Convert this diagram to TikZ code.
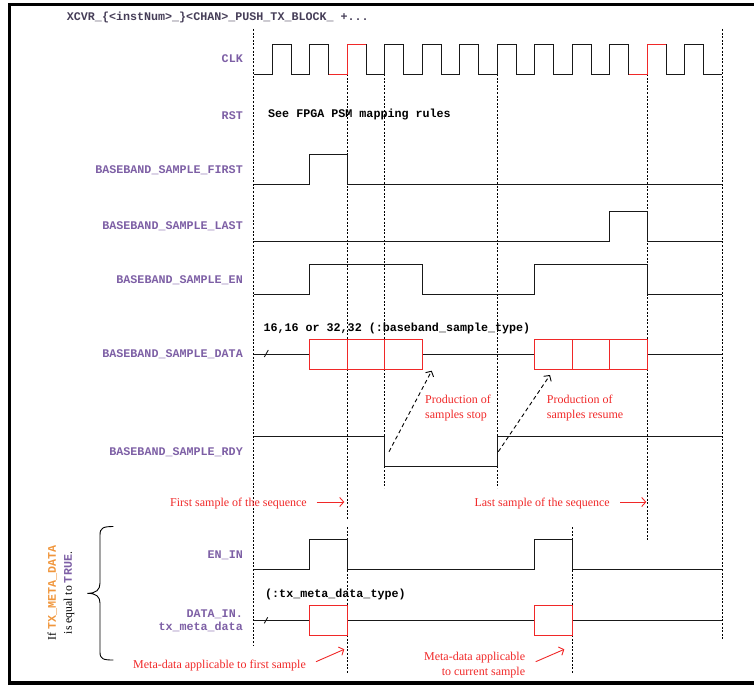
\documentclass[tikz,border=0pt]{standalone}
\usepackage{fontspec}
\setmainfont{Liberation Serif}
\newfontfamily\monof{Liberation Mono}
\usetikzlibrary{arrows.meta}
\definecolor{lbl}{RGB}{125,95,165}
\definecolor{hdr}{RGB}{70,62,88}
\definecolor{rd}{RGB}{240,40,40}
\definecolor{org}{RGB}{240,150,60}
\definecolor{wave}{RGB}{25,25,25}
\begin{document}
\begin{tikzpicture}[x=1pt,y=-1pt,
  sig/.style={font=\monof\bfseries\fontsize{11.7}{14}\selectfont, text=lbl, anchor=base east, inner sep=0},
  mono/.style={font=\monof\bfseries\fontsize{11.7}{14}\selectfont, text=black, anchor=base west, inner sep=0},
  note/.style={font=\fontsize{12}{14}\selectfont, text=rd, inner sep=0},
  wv/.style={line width=0.9pt, draw=wave, line join=miter},
  redwv/.style={line width=0.9pt, draw=rd},
  gridln/.style={dash pattern=on 2pt off 1.6pt, line width=0.7pt, draw=black},
  dbox/.style={draw=rd, line width=0.9pt, fill=white},
  rarrow/.style={draw=rd, line width=0.9pt, -{Straight Barb[length=4pt,width=9pt]}},
  darrow/.style={draw=black, line width=0.9pt, dash pattern=on 4pt off 3pt, -{Straight Barb[length=4pt,width=9pt]}}]
\useasboundingbox (0,0) rectangle (754,685);
% frame
\draw[line width=3pt] (9.5,685) -- (9.5,5) -- (754,5);
\draw[line width=4pt] (8,683) -- (754,683);

% header
\node[mono, text=hdr] (hdr) at (66.7,21) {XCVR\_\{<instNum>\_\}<CHAN>\_PUSH\_TX\_BLOCK\_ +...};

% grid lines
\draw[gridln] (253.5,29) -- (253.5,645);
\draw[gridln] (722.25,29) -- (722.25,639);
\draw[gridln] (347.25,74) -- (347.25,520);
\draw[gridln] (347.25,527) -- (347.25,673);
\draw[gridln] (384.75,74) -- (384.75,488);
\draw[gridln] (497.25,74) -- (497.25,488);
\draw[gridln] (647.25,74) -- (647.25,540);
\draw[gridln] (572.25,527) -- (572.25,673);

% labels
\node[sig] (clk) at (243,62.3) {CLK};
\node[sig] (rst) at (243,119) {RST};
\node[sig] (first) at (243,173) {BASEBAND\_SAMPLE\_FIRST};
\node[sig] (last) at (243,229) {BASEBAND\_SAMPLE\_LAST};
\node[sig] (en) at (243,283.3) {BASEBAND\_SAMPLE\_EN};
\node[sig] (data) at (243,357) {BASEBAND\_SAMPLE\_DATA};
\node[sig] (rdy) at (243,455.5) {BASEBAND\_SAMPLE\_RDY};
\node[sig] (enin) at (243,558) {EN\_IN};
\node[sig] (datain1) at (243,617.7) {DATA\_IN.};
\node[sig] (datain2) at (243,630.5) {tx\_meta\_data};

% CLK
\draw[wv] (253.5,74) \foreach \i in {1,3,...,23} { -- ({253.5+18.75*\i},74) -- ({253.5+18.75*\i},44) -- ({253.5+18.75*(\i+1)},44) -- ({253.5+18.75*(\i+1)},74) } -- (722.25,74);
\draw[redwv] (328.5,74) -- (347.25,74) -- (347.25,44) -- (366,44);
\draw[redwv] (628.5,74) -- (647.25,74) -- (647.25,44) -- (666,44);

% RST
\node[mono] (rsttxt) at (268,117.5) {See FPGA PSM mapping rules};

% FIRST
\draw[wv] (253.5,184) -- (309.75,184) -- (309.75,154) -- (347.25,154) -- (347.25,184) -- (722.25,184);
% LAST
\draw[wv] (253.5,241) -- (609.75,241) -- (609.75,211) -- (647.25,211) -- (647.25,241) -- (722.25,241);
% EN
\draw[wv] (253.5,294) -- (309.75,294) -- (309.75,264.3) -- (422.25,264.3) -- (422.25,294) -- (534.75,294) -- (534.75,264.3) -- (647.25,264.3) -- (647.25,294) -- (722.25,294);

% DATA
\node[mono] (datatype) at (263.3,331) {16,16 or 32,32 (:baseband\_sample\_type)};
\draw[wv] (253.5,354.3) -- (309.75,354.3);
\draw[wv] (422.25,354.3) -- (534.75,354.3);
\draw[wv] (647.25,354.3) -- (722.25,354.3);
\draw[wv] (264.3,357) -- (268.3,350);
\foreach \a/\b in {309.75/347.25, 347.25/384.75, 384.75/422.25, 534.75/572.25, 572.25/609.75, 609.75/647.25}
  \draw[dbox] (\a,339.3) rectangle (\b,369.7);

% RDY
\draw[wv] (253.5,436.7) -- (384.75,436.7) -- (384.75,466) -- (497.25,466) -- (497.25,436.7) -- (722.25,436.7);

% production notes and arrows
\node[note, anchor=base west] (stop1) at (425,403) {Production of};
\node[note, anchor=base west] (stop2) at (425,418.3) {samples stop};
\node[note, anchor=base west] (res1) at (546.7,403) {Production of};
\node[note, anchor=base west] (res2) at (546.7,418.3) {samples resume};
\coordinate (a1s) at (389,451.7);
\coordinate (a1e) at (431.7,370.7);
\coordinate (a2s) at (498.3,451.7);
\coordinate (a2e) at (550,375);
\draw[darrow] (a1s) -- (a1e);
\draw[darrow] (a2s) -- (a2e);

% sequence notes
\node[note, anchor=base east] (firstnote) at (307,506) {First sample of the sequence};
\node[note, anchor=base east] (lastnote) at (610,506) {Last sample of the sequence};
\coordinate (f1) at (316.7,502);
\coordinate (f2) at (344.3,502);
\coordinate (l1) at (620,502);
\coordinate (l2) at (646.3,502);
\draw[rarrow] (f1) -- (f2);
\draw[rarrow] (l1) -- (l2);

% EN_IN
\draw[wv] (253.5,569) -- (309.75,569) -- (309.75,539.3) -- (347.25,539.3) -- (347.25,569) -- (534.75,569) -- (534.75,539.3) -- (572.25,539.3) -- (572.25,569) -- (722.25,569);

% DATA_IN
\node[mono] (metatype) at (265,597.5) {(:tx\_meta\_data\_type)};
\draw[wv] (253.5,620.3) -- (309.75,620.3);
\draw[wv] (347.25,620.3) -- (534.75,620.3);
\draw[wv] (572.25,620.3) -- (722.25,620.3);
\draw[wv] (264.3,623.3) -- (267.7,617.3);
\draw[dbox] (309.75,605) rectangle (347.25,635.7);
\draw[dbox] (534.75,605) rectangle (572.25,635.7);

% meta notes
\node[note, anchor=base east] (meta1) at (306,668) {Meta-data applicable to first sample};
\node[note, anchor=base east] (cur1) at (525.3,660.5) {Meta-data applicable};
\node[note, anchor=base east] (cur2) at (525.3,675) {to current sample};
\coordinate (m1s) at (316,661.7);
\coordinate (m1e) at (344.3,649.3);
\coordinate (m2s) at (535.7,661.7);
\coordinate (m2e) at (564.3,649.3);
\draw[rarrow] (m1s) -- (m1e);
\draw[rarrow] (m2s) -- (m2e);

% brace and condition
\draw[line width=0.9pt] (113.3,526.5) .. controls (103,526.5) and (100,528) .. (100,535) -- (100,583) .. controls (100,590) and (96,593.3) .. (87.5,593.3) .. controls (96,593.3) and (100,596.5) .. (100,603) -- (100,652) .. controls (100,659) and (103,660) .. (113.3,660);
\node[font=\fontsize{11.7}{16}\selectfont, align=center, rotate=90, inner sep=0] (cond) at (61,593) {If {\monof\bfseries\color{org}TX\_META\_DATA}\\is equal to {\monof\bfseries\color{lbl}TRUE}.};
\end{tikzpicture}
\end{document}
